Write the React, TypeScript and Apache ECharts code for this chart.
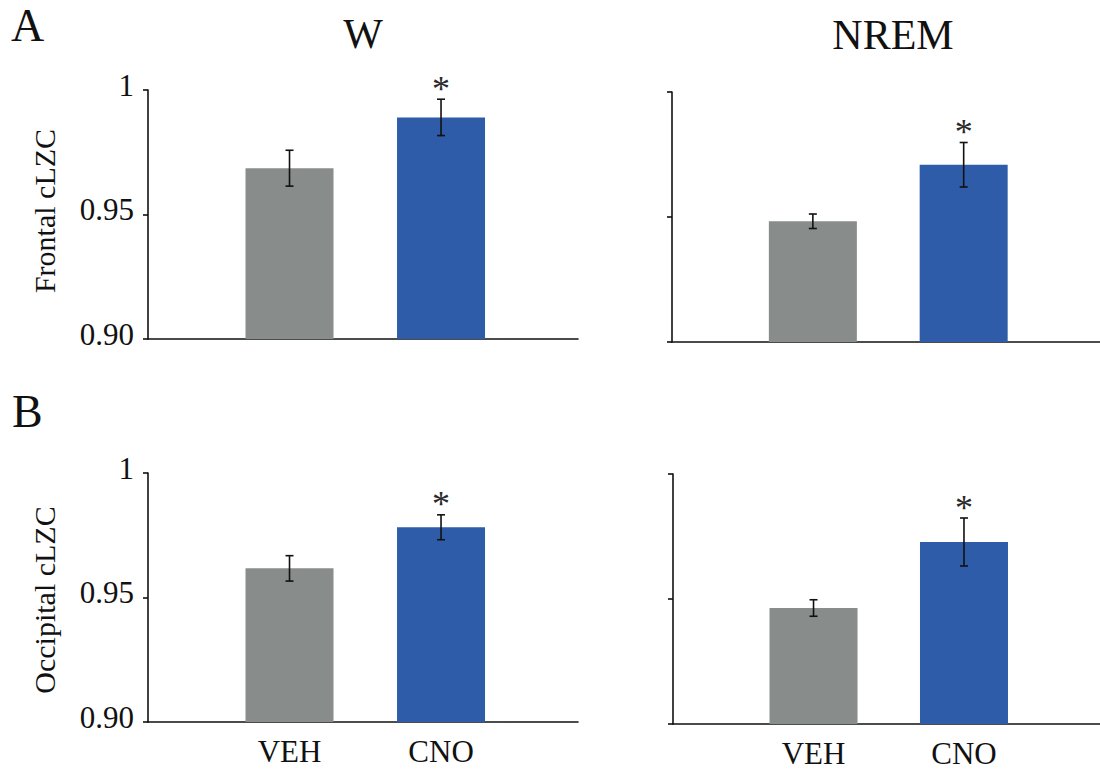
import React, { useEffect, useRef } from 'react';
import * as echarts from 'echarts';

// Treatment groups along each x axis
const GROUPS = ['VEH', 'CNO'];
// Column titles (vigilance state) and row labels (recording site)
const STATES = ['W', 'NREM'];
const REGIONS = ['Frontal cLZC', 'Occipital cLZC'];
const PANEL_LETTERS = ['A', 'B'];
// Significance marks per group
const SIG_MARKS = ['', '*'];

// Mean cLZC and SEM per group
const FRONTAL_W_MEAN = [0.9686, 0.989];
const FRONTAL_W_SEM = [0.0072, 0.0073];
const FRONTAL_NREM_MEAN = [0.9483, 0.9709];
const FRONTAL_NREM_SEM = [0.0029, 0.0089];
const OCCIPITAL_W_MEAN = [0.9617, 0.9782];
const OCCIPITAL_W_SEM = [0.0051, 0.005];
const OCCIPITAL_NREM_MEAN = [0.9464, 0.9728];
const OCCIPITAL_NREM_SEM = [0.0033, 0.0096];

// Y axis range
const Y_MIN = 0.9;
const Y_MAX = 1.0;
const Y_STEP = 0.05;

const FONT = "'Liberation Serif', 'Times New Roman', Times, serif";
const INK = '#111111';
const BAR_COLORS = ['#888c8b', '#2e5ca8'];
const X_MIN = 0.066;
const X_MAX = 2.904;

const PANELS = [
  { mean: FRONTAL_W_MEAN, sem: FRONTAL_W_SEM, grid: { left: 148, top: 90, width: 430, height: 249 }, yLabels: true, xLabels: false },
  { mean: FRONTAL_NREM_MEAN, sem: FRONTAL_NREM_SEM, grid: { left: 672, top: 92, width: 430, height: 250 }, yLabels: false, xLabels: false },
  { mean: OCCIPITAL_W_MEAN, sem: OCCIPITAL_W_SEM, grid: { left: 148, top: 473, width: 430, height: 249 }, yLabels: true, xLabels: true },
  { mean: OCCIPITAL_NREM_MEAN, sem: OCCIPITAL_NREM_SEM, grid: { left: 673, top: 474, width: 430, height: 250 }, yLabels: false, xLabels: true },
];

const axisLine = { show: true, lineStyle: { color: INK, width: 1.6 } };

function buildOption() {
  const grid = PANELS.map((p) => ({ ...p.grid, containLabel: false }));

  const xAxis = PANELS.map((p, i) => ({
    type: 'value',
    gridIndex: i,
    min: X_MIN,
    max: X_MAX,
    axisLine,
    axisTick: { show: false },
    splitLine: { show: false },
    axisLabel: {
      show: p.xLabels,
      customValues: [1, 2],
      formatter: (v: number) => GROUPS[Math.round(v) - 1] ?? '',
      fontFamily: FONT,
      fontSize: 31,
      color: INK,
      margin: 14,
    },
  }));

  const yAxis = PANELS.map((p, i) => ({
    type: 'value',
    gridIndex: i,
    min: Y_MIN,
    max: Y_MAX,
    interval: Y_STEP,
    axisLine,
    axisTick: { show: true, inside: false, length: 5, lineStyle: { color: INK, width: 1.6 } },
    splitLine: { show: false },
    axisLabel: {
      show: p.yLabels,
      formatter: (v: number) => `{t|${v >= 0.999 ? '1' : v.toFixed(2)}}`,
      margin: 14,
      rich: {
        t: {
          fontFamily: FONT,
          fontSize: 31,
          color: INK,
          padding: [0, 0, 10, 0],
        },
      },
    },
  }));

  const series: any[] = [];
  PANELS.forEach((p, i) => {
    series.push({
      type: 'bar',
      xAxisIndex: i,
      yAxisIndex: i,
      barWidth: 88,
      clip: true,
      data: p.mean.map((m, j) => ({ value: [j + 1, m], itemStyle: { color: BAR_COLORS[j] } })),
    });
    series.push({
      type: 'custom',
      xAxisIndex: i,
      yAxisIndex: i,
      z: 5,
      clip: false,
      data: p.mean.map((m, j) => [j + 1, m, p.sem[j]]),
      renderItem: (params: any, api: any) => {
        const x = api.value(0);
        const m = api.value(1);
        const e = api.value(2);
        const hi = api.coord([x, m + e]);
        const lo = api.coord([x, m - e]);
        const cap = 4;
        const ls = { stroke: INK, lineWidth: 1.6 };
        const children: any[] = [
          { type: 'line', shape: { x1: hi[0], y1: hi[1], x2: lo[0], y2: lo[1] }, style: ls },
          { type: 'line', shape: { x1: hi[0] - cap, y1: hi[1], x2: hi[0] + cap, y2: hi[1] }, style: ls },
          { type: 'line', shape: { x1: lo[0] - cap, y1: lo[1], x2: lo[0] + cap, y2: lo[1] }, style: ls },
        ];
        const mark = SIG_MARKS[params.dataIndex];
        if (mark) {
          children.push({
            type: 'text',
            x: hi[0],
            y: hi[1] - 10.5,
            style: {
              text: mark,
              fontFamily: FONT,
              fontSize: 36,
              fill: '#2a2a2a',
              align: 'center',
              verticalAlign: 'middle',
              textAlign: 'center',
              textVerticalAlign: 'middle',
            },
          });
        }
        return { type: 'group', children };
      },
    });
  });

  const textStyle = (size: number, align = 'center') => ({
    fontFamily: FONT,
    fontSize: size,
    fill: INK,
    align,
    verticalAlign: 'middle',
    textAlign: align,
    textVerticalAlign: 'middle',
  });

  const graphic: any[] = [
    { type: 'text', x: 11, y: 25, style: { text: PANEL_LETTERS[0], ...textStyle(46, 'left') } },
    { type: 'text', x: 12, y: 411, style: { text: PANEL_LETTERS[1], ...textStyle(46, 'left') } },
    { type: 'text', x: 363, y: 34, style: { text: STATES[0], ...textStyle(42) } },
    { type: 'text', x: 893, y: 35, style: { text: STATES[1], ...textStyle(42) } },
    { type: 'text', x: 44, y: 211, rotation: Math.PI / 2, style: { text: REGIONS[0], ...textStyle(30) } },
    { type: 'text', x: 44, y: 600, rotation: Math.PI / 2, style: { text: REGIONS[1], ...textStyle(30) } },
  ];

  return {
    animation: false,
    backgroundColor: '#ffffff',
    textStyle: { fontFamily: FONT },
    grid,
    xAxis,
    yAxis,
    series,
    graphic,
  };
}

export default function App() {
  const ref = useRef<HTMLDivElement>(null);
  useEffect(() => {
    if (!ref.current) return;
    const chart = echarts.init(ref.current, undefined, { renderer: 'svg' });
    chart.setOption(buildOption() as any);
    return () => chart.dispose();
  }, []);
  return (
    <div
      ref={ref}
      style={{ position: 'absolute', left: 0, top: 0, width: 1100, height: 771, background: '#fff' }}
    />
  );
}
